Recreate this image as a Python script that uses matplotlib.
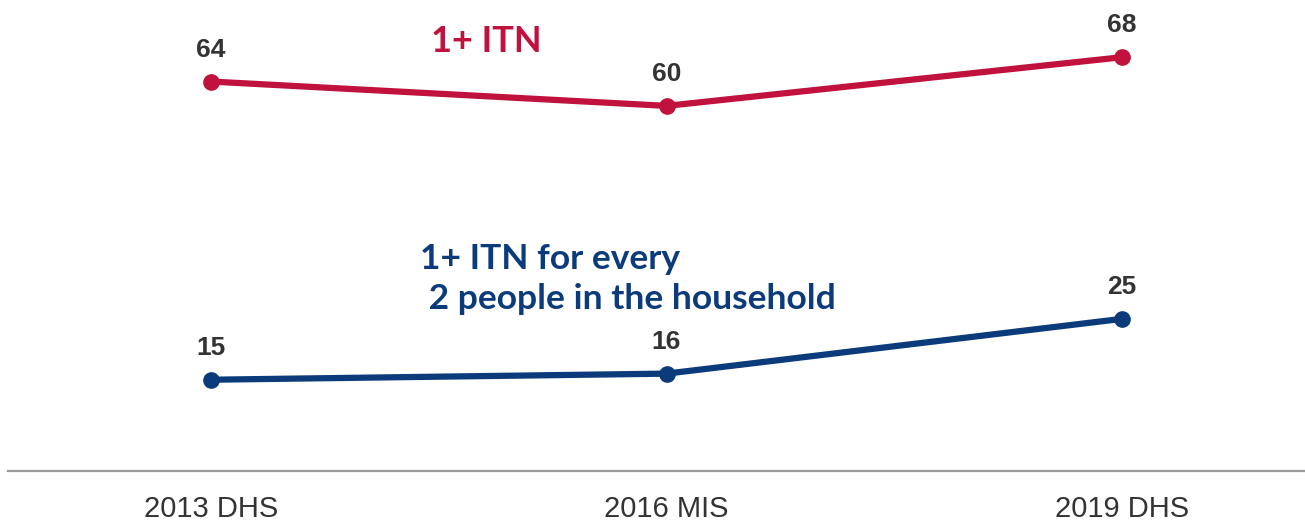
import matplotlib
matplotlib.use("Agg")
import matplotlib.pyplot as plt

surveys = ["2013 DHS", "2016 MIS", "2019 DHS"]
itn_any = [64, 60, 68]
itn_per_two = [15, 16, 25]

RED = "#C0123C"
BLUE = "#0C3B7C"
TEXT = "#333333"

fig = plt.figure(figsize=(13.05, 5.21), dpi=100)
ax = fig.add_axes([8 / 1305, 50 / 521, 1 - 8 / 1305, 471 / 521])

x = list(range(len(surveys)))
for vals, col in ((itn_any, RED), (itn_per_two, BLUE)):
    ax.plot(x, vals, color=col, lw=4.5, marker="o", ms=11, solid_capstyle="round",
            zorder=3)
    for xi, v in zip(x, vals):
        ax.annotate(str(v), (xi, v), xytext=(0, 23), textcoords="offset points",
                    ha="center", va="center", fontsize=19, fontweight="bold",
                    color=TEXT, family=["Liberation Sans", "DejaVu Sans"])

ax.text(0.605, 70.5, "1+ ITN", color=RED, fontsize=26, fontweight="bold",
        ha="center", va="center", family=["Lato", "DejaVu Sans"])
ax.text(0.459, 31.6, "1+ ITN for every\n 2 people in the household", color=BLUE,
        fontsize=25.5, fontweight="bold", ha="left", va="center", linespacing=1.3,
        family=["Lato", "DejaVu Sans"])

ax.set_xlim(-203 / 455.5, 2 + 183 / 455.5)
ax.set_ylim(0, 77.4)
ax.set_xticks(x)
ax.set_xticklabels(surveys, fontsize=21, color=TEXT,
                   family=["Liberation Sans Narrow", "Liberation Sans", "DejaVu Sans"])
ax.tick_params(axis="x", length=0, pad=17)
ax.set_yticks([])
for s in ("top", "left", "right"):
    ax.spines[s].set_visible(False)
ax.spines["bottom"].set_color("#999999")
ax.spines["bottom"].set_linewidth(1.6)

fig.savefig("out.png", dpi=100)
